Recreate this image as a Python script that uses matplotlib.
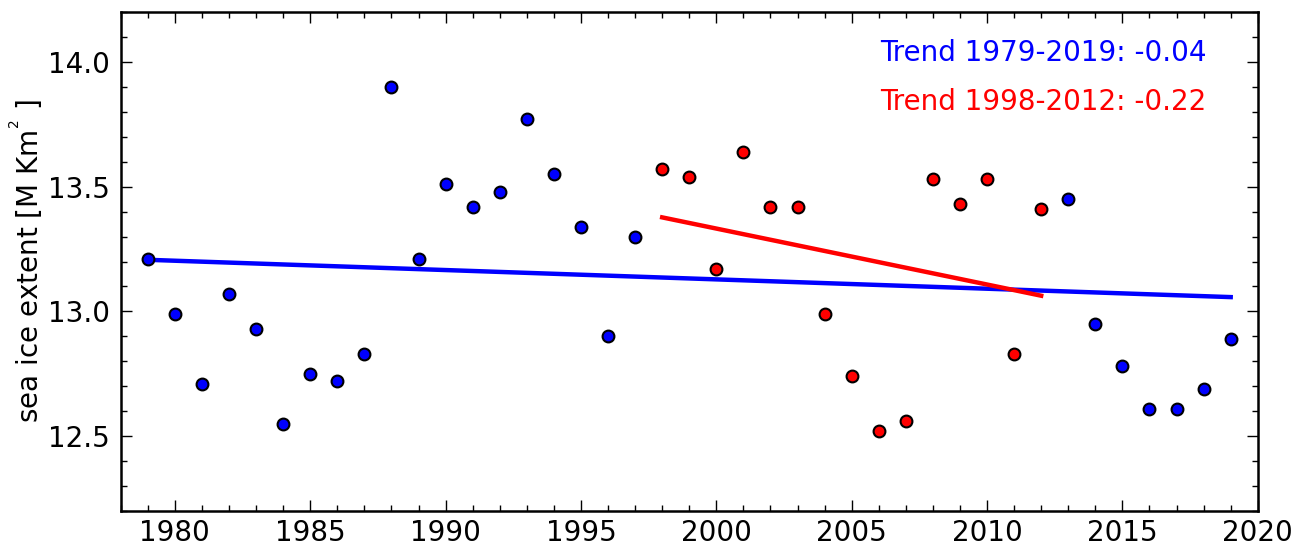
import numpy as np
import matplotlib
matplotlib.use("Agg")
import matplotlib.pyplot as plt
from matplotlib.ticker import MultipleLocator

# yearly sea ice extent [M km^2]
years = np.arange(1979, 2020)
extent = [13.21, 12.99, 12.71, 13.07, 12.93, 12.55, 12.75, 12.72, 12.83, 13.90,
          13.21, 13.51, 13.42, 13.48, 13.77, 13.55, 13.34, 12.90, 13.30, 13.57,
          13.54, 13.17, 13.64, 13.42, 13.42, 12.99, 12.74, 12.52, 12.56, 13.53,
          13.43, 13.53, 12.83, 13.41, 13.45, 12.95, 12.78, 12.61, 12.61, 12.69,
          12.89]
extent = np.array(extent)

hiatus = (years >= 1998) & (years <= 2012)

fig = plt.figure(figsize=(12.98, 5.48), dpi=100)
ax = fig.add_axes([0.093, 0.0675, 0.876, 0.9105])

# trend lines
p_all = np.polyfit(years, extent, 1)
p_h = np.polyfit(years[hiatus], extent[hiatus], 1)
ax.plot(years, np.polyval(p_all, years), color='blue', lw=3.2, zorder=2)
ax.plot(years[hiatus], np.polyval(p_h, years[hiatus]), color='red', lw=3.2, zorder=2)

# points
ax.plot(years[~hiatus], extent[~hiatus], 'o', color='blue', mec='black', mew=1.5, ms=8.5, zorder=3)
ax.plot(years[hiatus], extent[hiatus], 'o', color='red', mec='black', mew=1.5, ms=8.5, zorder=3)

ax.text(0.668, 0.918, 'Trend 1979-2019: %.2f' % (p_all[0] * 10), color='blue',
        fontsize=20, transform=ax.transAxes, va='center')
ax.text(0.668, 0.82, 'Trend 1998-2012: %.2f' % (p_h[0] * 10), color='red',
        fontsize=20, transform=ax.transAxes, va='center')

ax.set_xlim(1978, 2020)
ax.set_ylim(12.2, 14.2)
ax.xaxis.set_major_locator(MultipleLocator(5))
ax.xaxis.set_minor_locator(MultipleLocator(1))
ax.yaxis.set_major_locator(MultipleLocator(0.5))
ax.yaxis.set_minor_locator(MultipleLocator(0.1))
ax.yaxis.set_major_formatter(matplotlib.ticker.FormatStrFormatter('%.1f'))
ax.tick_params(which='both', direction='in', top=True, right=True, labelsize=20)
ax.tick_params(which='major', length=8, width=1)
ax.tick_params(which='minor', length=4, width=1)
ax.tick_params(axis='x', pad=6)
ax.tick_params(axis='y', pad=8)
for s in ax.spines.values():
    s.set_linewidth(1.8)

ax.set_ylabel(r'sea ice extent [M Km$^{^2}$ ]', fontsize=20, labelpad=2)

fig.savefig('out.png', dpi=100)
